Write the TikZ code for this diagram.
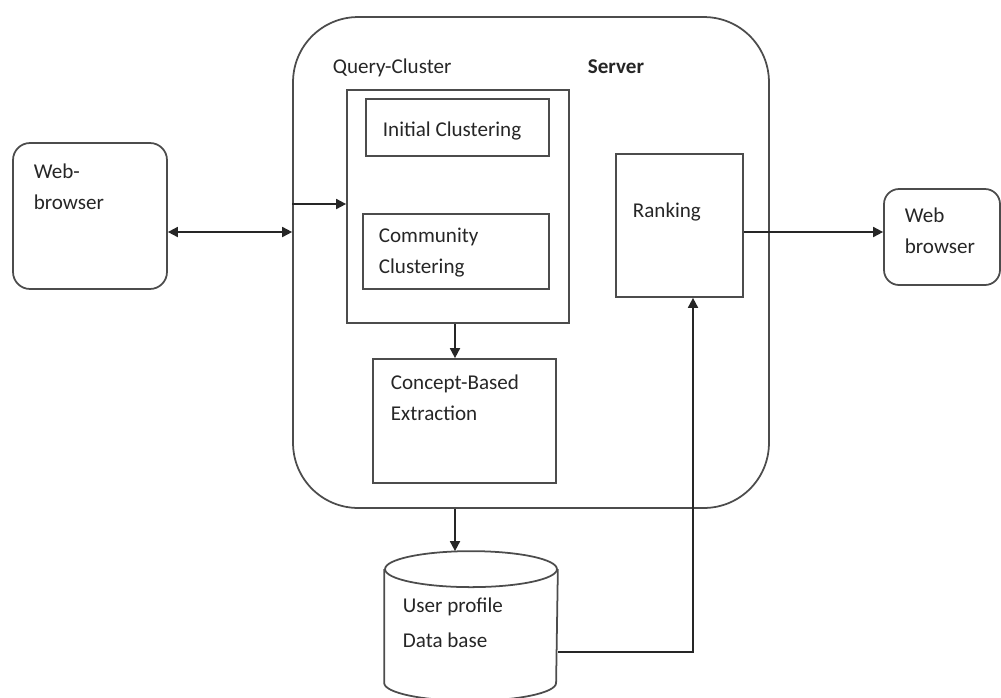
\documentclass[tikz,border=0pt]{standalone}
\usepackage{fontspec}
\setmainfont{Carlito}
\usetikzlibrary{arrows.meta}
\begin{document}
\begin{tikzpicture}[x=0.02cm, y=-0.02cm, line width=1pt,
  every node/.style={font=\fontsize{12}{17.6}\selectfont, text=black!85},
  box/.style={draw=black!70, inner sep=0pt},
  rbox/.style={box, rounded corners=0.34cm},
  lbl/.style={anchor=base west, inner sep=0pt, align=left},
  arr/.style={draw=black!85, -{Triangle[length=2mm,width=2mm]}},
  darr/.style={draw=black!85, {Triangle[length=2mm,width=2mm]}-{Triangle[length=2mm,width=2mm]}}]
\useasboundingbox (0,0) rectangle (1001,697);
% browsers
\node[rbox, minimum width=3.08cm, minimum height=2.92cm] (wbl) at (90,216) {};
\node[lbl] (wblT) at (33,209) {Web-\\browser};
\node[box, rounded corners=0.3cm, minimum width=2.32cm, minimum height=1.92cm] (wbr) at (942,237) {};
\node[lbl] (wbrT) at (904,253) {Web\\browser};
% server
\node[box, rounded corners=1.3cm, minimum width=9.52cm, minimum height=9.82cm] (srv) at (531,262.5) {};
\node[lbl] (srvT) at (587,73) {\textbf{Server}};
\node[lbl] (qcT) at (332,73) {Query-Cluster};
\node[box, minimum width=4.44cm, minimum height=4.66cm] (qc) at (458,206.5) {};
\node[box, minimum width=3.66cm, minimum height=1.14cm] (init) at (457.5,127.5) {};
\node[lbl] (initT) at (382,136) {Initial Clustering};
\node[box, minimum width=3.72cm, minimum height=1.5cm] (comm) at (456,251.5) {};
\node[lbl] (commT) at (378,273) {Community\\Clustering};
\node[box, minimum width=3.66cm, minimum height=2.48cm] (cbe) at (464.5,421) {};
\node[lbl] (cbeT) at (390,420) {Concept-Based\\Extraction};
\node[box, minimum width=2.54cm, minimum height=2.86cm] (rank) at (679.5,225.5) {};
\node[lbl] (rankT) at (632,217) {Ranking};
% database
\node[inner sep=0pt, minimum width=3.44cm, minimum height=2.96cm] (db) at (471,626) {};
\draw[black!70] ([yshift=-0.36cm]db.north) ellipse[x radius=1.72cm, y radius=0.36cm];
\draw[black!70] ([yshift=-0.36cm]db.north west) -- ([yshift=0.36cm]db.south west) arc[start angle=180, end angle=360, x radius=1.72cm, y radius=0.36cm] -- ([yshift=-0.36cm]db.north east);
\node[lbl, font=\fontsize{12}{19.5}\selectfont] (dbT) at (402,647) {User profile\\Data base};
% connectors
\coordinate (ay) at (0,232); \coordinate (by) at (0,204);
\coordinate (ax) at (455,0); \coordinate (rx) at (693,0); \coordinate (dy) at (0,652);
\draw[darr] (wbl.east |- ay) -- (srv.west |- ay);
\draw[arr] (srv.west |- by) -- (qc.west |- by);
\draw[arr] (qc.south -| ax) -- (cbe.north -| ax);
\draw[arr] (srv.south -| ax) -- (db.north -| ax);
\draw[arr] (db.east |- dy) -| (rank.south -| rx);
\draw[arr] (rank.east |- ay) -- (wbr.west |- ay);
\end{tikzpicture}
\end{document}
